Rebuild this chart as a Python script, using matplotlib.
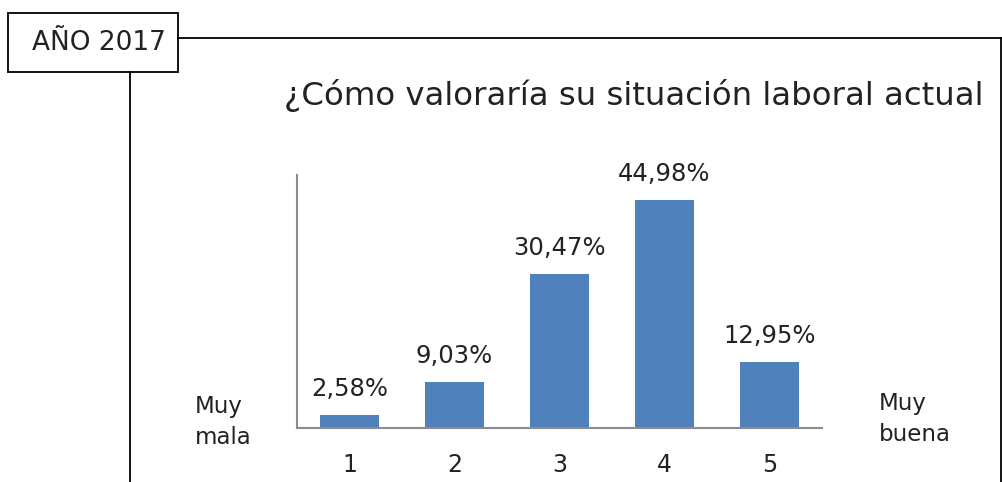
import matplotlib.pyplot as plt
from matplotlib.patches import Rectangle

categorias = ['1', '2', '3', '4', '5']
porcentajes = [2.58, 9.03, 30.47, 44.98, 12.95]
etiquetas = ['2,58%', '9,03%', '30,47%', '44,98%', '12,95%']
titulo = '¿Cómo valoraría su situación laboral actual'

plt.rcParams['font.family'] = ['DejaVu Sans']

W, H = 1003, 482
fig = plt.figure(figsize=(W / 100, H / 100), dpi=100)

# marco y caja del año (coordenadas en pixeles -> fraccion de figura)
def fx(x):
    return x / W

def fy(y):
    return 1 - y / H

fig.add_artist(plt.Line2D([fx(178), fx(1001)], [fy(38), fy(38)], color='black', lw=1.3))
fig.add_artist(plt.Line2D([fx(1001), fx(1001)], [fy(38), fy(482)], color='black', lw=1.3))
fig.add_artist(plt.Line2D([fx(130), fx(130)], [fy(72), fy(482)], color='black', lw=1.3))
fig.add_artist(Rectangle((fx(8), fy(72)), fx(170), 59 / H, transform=fig.transFigure,
                         fill=False, edgecolor='black', lw=1.3))
fig.text(fx(99), fy(43), 'AÑO 2017', ha='center', va='center', fontsize=19, color='#222222')

fig.text(fx(284), fy(95), titulo, ha='left', va='center', fontsize=23.3, color='#222222')

ax = fig.add_axes([fx(297), fy(428), fx(525), (428 - 175) / H])
x = range(1, len(categorias) + 1)
bars = ax.bar(x, porcentajes, width=0.57, color='#4F81BD')
for b, lab in zip(bars, etiquetas):
    ax.text(b.get_x() + b.get_width() / 2, b.get_height() + 2.8, lab,
            ha='center', va='bottom', fontsize=17.5, color='#222222')

ax.set_xlim(0.5, 5.5)
ax.set_ylim(0, 50)
ax.set_xticks(list(x))
ax.set_xticklabels(categorias, fontsize=17, color='#222222')
ax.tick_params(axis='x', length=0, pad=18)
ax.set_yticks([])
for s in ['top', 'right']:
    ax.spines[s].set_visible(False)
for s in ['left', 'bottom']:
    ax.spines[s].set_color('#8c8c8c')
    ax.spines[s].set_linewidth(1.5)

fig.text(fx(195), fy(422), 'Muy\nmala', ha='left', va='center', fontsize=16.5, linespacing=1.45, color='#222222')
fig.text(fx(879), fy(419), 'Muy\nbuena', ha='left', va='center', fontsize=16.5, linespacing=1.45, color='#222222')

fig.savefig('out.png', dpi=100)
